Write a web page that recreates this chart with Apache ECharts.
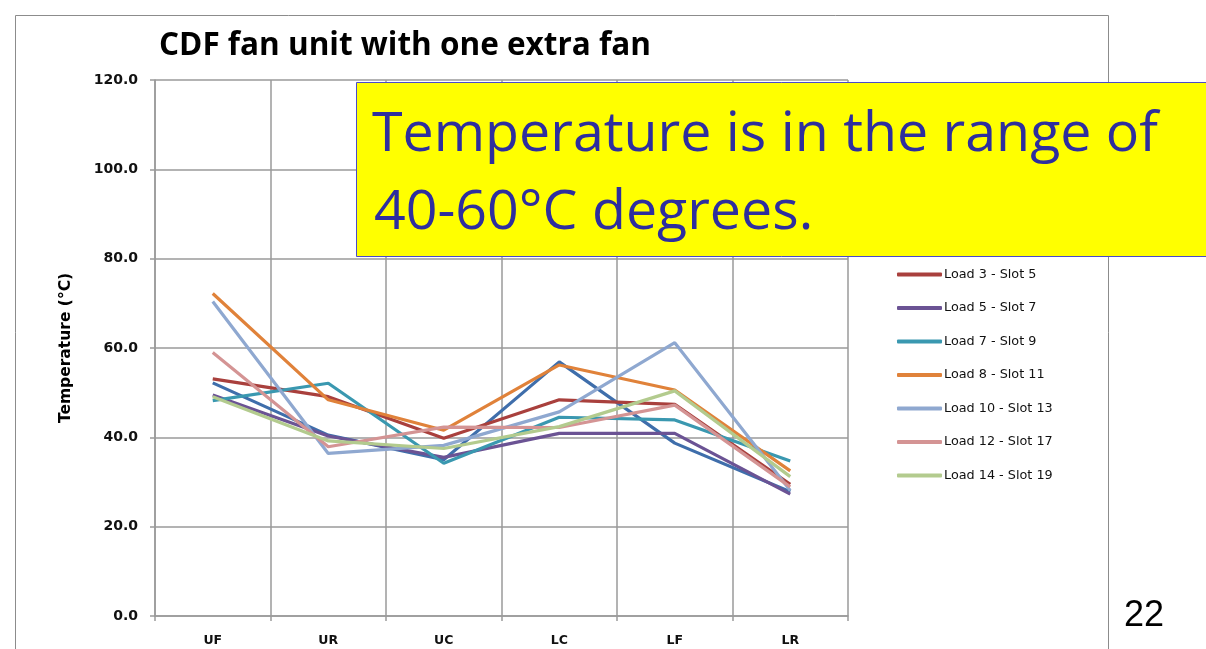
<!DOCTYPE html>
<html>
<head>
<meta charset="utf-8">
<script src="https://cdn.jsdelivr.net/npm/echarts@6/dist/echarts.min.js"></script>
<style>
html,body{margin:0;padding:0;background:#fff;}
#c{width:1206px;height:649px;}
</style>
</head>
<body>
<div id="c"></div>
<script>
const categories = ['UF', 'UR', 'UC', 'LC', 'LF', 'LR'];
const yTicks = [0, 20, 40, 60, 80, 100, 120];

const load1 = [52.2, 40.5, 35.0, 56.9, 38.7, 27.8];
const load3 = [53.1, 49.1, 39.8, 48.4, 47.4, 29.5];
const load5 = [49.5, 40.3, 35.5, 40.9, 40.9, 27.3];
const load7 = [48.2, 52.1, 34.2, 44.5, 43.9, 34.7];
const load8 = [72.2, 48.4, 41.6, 56.2, 50.6, 32.5];
const load10 = [70.4, 36.4, 38.2, 45.7, 61.2, 28.1];
const load12 = [59.0, 37.9, 42.3, 42.2, 47.2, 28.9];
const load14 = [49.1, 39.2, 37.5, 42.4, 50.4, 31.2];

const seriesNames = ['Load 1 - Slot 3', 'Load 3 - Slot 5', 'Load 5 - Slot 7', 'Load 7 - Slot 9',
  'Load 8 - Slot 11', 'Load 10 - Slot 13', 'Load 12 - Slot 17', 'Load 14 - Slot 19'];
const seriesData = [load1, load3, load5, load7, load8, load10, load12, load14];
const seriesColors = ['#3F6EAB', '#A9403D', '#6B5394', '#3A98B0', '#E0823A', '#8FA8D0', '#D49494', '#B3CB8E'];
const legendNames = seriesNames.slice(1);

const title = 'CDF fan unit with one extra fan';
const yName = 'Temperature (°C)';
const boxLine1 = 'Temperature is in the range of';
const boxLine2 = '40-60°C degrees.';
const pageNum = '22';

const chart = echarts.init(document.getElementById('c'), null, {renderer: 'canvas'});
const gridColor = '#9A9A9A';
const option = {
  animation: false,
  backgroundColor: '#fff',
  color: seriesColors,
  title: {
    text: title,
    left: 159, top: 30, padding: 0,
    textStyle: {fontFamily: 'Open Sans', fontWeight: 'bold', fontSize: 31.5, color: '#000'}
  },
  legend: {
    data: legendNames,
    orient: 'vertical',
    left: 897, top: 267, padding: 0,
    icon: 'roundRect',
    itemWidth: 45, itemHeight: 4, itemGap: 18.5,
    textStyle: {fontFamily: 'DejaVu Sans', fontSize: 12.8, color: '#111', padding: [0, 0, 0, -3], lineHeight: 15},
  },
  grid: {left: 155, right: 358, top: 80, bottom: 33, containLabel: false},
  xAxis: {
    type: 'category',
    data: categories,
    boundaryGap: true,
    axisLine: {show: true, lineStyle: {color: gridColor, width: 1.5}},
    axisTick: {show: true, length: 5, inside: false, lineStyle: {color: gridColor, width: 1.5}},
    axisLabel: {margin: 18, fontFamily: 'DejaVu Sans', fontSize: 12.5, color: '#111', fontWeight: 'bold'},
    splitLine: {show: true, lineStyle: {color: gridColor, width: 1.5}}
  },
  yAxis: {
    type: 'value',
    min: yTicks[0], max: yTicks[yTicks.length - 1], interval: 20,
    name: yName,
    nameLocation: 'middle',
    nameGap: 81,
    nameRotate: 90,
    nameTextStyle: {fontFamily: 'DejaVu Sans', fontWeight: 'bold', fontSize: 15.5, color: '#000'},
    axisLine: {show: true, lineStyle: {color: gridColor, width: 1.5}},
    axisTick: {show: true, length: 5, inside: false, lineStyle: {color: gridColor, width: 1.5}},
    axisLabel: {margin: 17, fontFamily: 'DejaVu Sans', fontSize: 14, color: '#111', fontWeight: 'bold',
      formatter: v => v.toFixed(1)},
    splitLine: {show: true, lineStyle: {color: gridColor, width: 1.5}}
  },
  series: seriesNames.map((n, i) => ({
    name: n,
    type: 'line',
    data: seriesData[i],
    symbol: 'none',
    lineStyle: {width: 3.2, color: seriesColors[i]},
    itemStyle: {color: seriesColors[i]},
    z: 2
  })),
  graphic: [
    {type: 'rect', shape: {x: 15.5, y: 15.5, width: 1093, height: 660}, style: {fill: 'none', stroke: '#8C8C8C', lineWidth: 1}, z: 0, silent: true},
    {type: 'rect', shape: {x: 356.5, y: 82.5, width: 860, height: 174}, style: {fill: '#FFFF00', stroke: '#4B4BC8', lineWidth: 1}, z: 100},
    {type: 'text', left: 372, top: 107, z: 101, style: {text: boxLine1, font: '55.5px "Open Sans"', fill: '#2E2E9E'}},
    {type: 'text', left: 374, top: 185, z: 101, style: {text: boxLine2, font: '55.5px "Open Sans"', fill: '#2E2E9E'}},
    {type: 'text', left: 1124, top: 598, z: 101, style: {text: pageNum, font: '36px "Liberation Sans"', fill: '#000'}}
  ]
};
chart.setOption(option);
</script>
</body>
</html>
